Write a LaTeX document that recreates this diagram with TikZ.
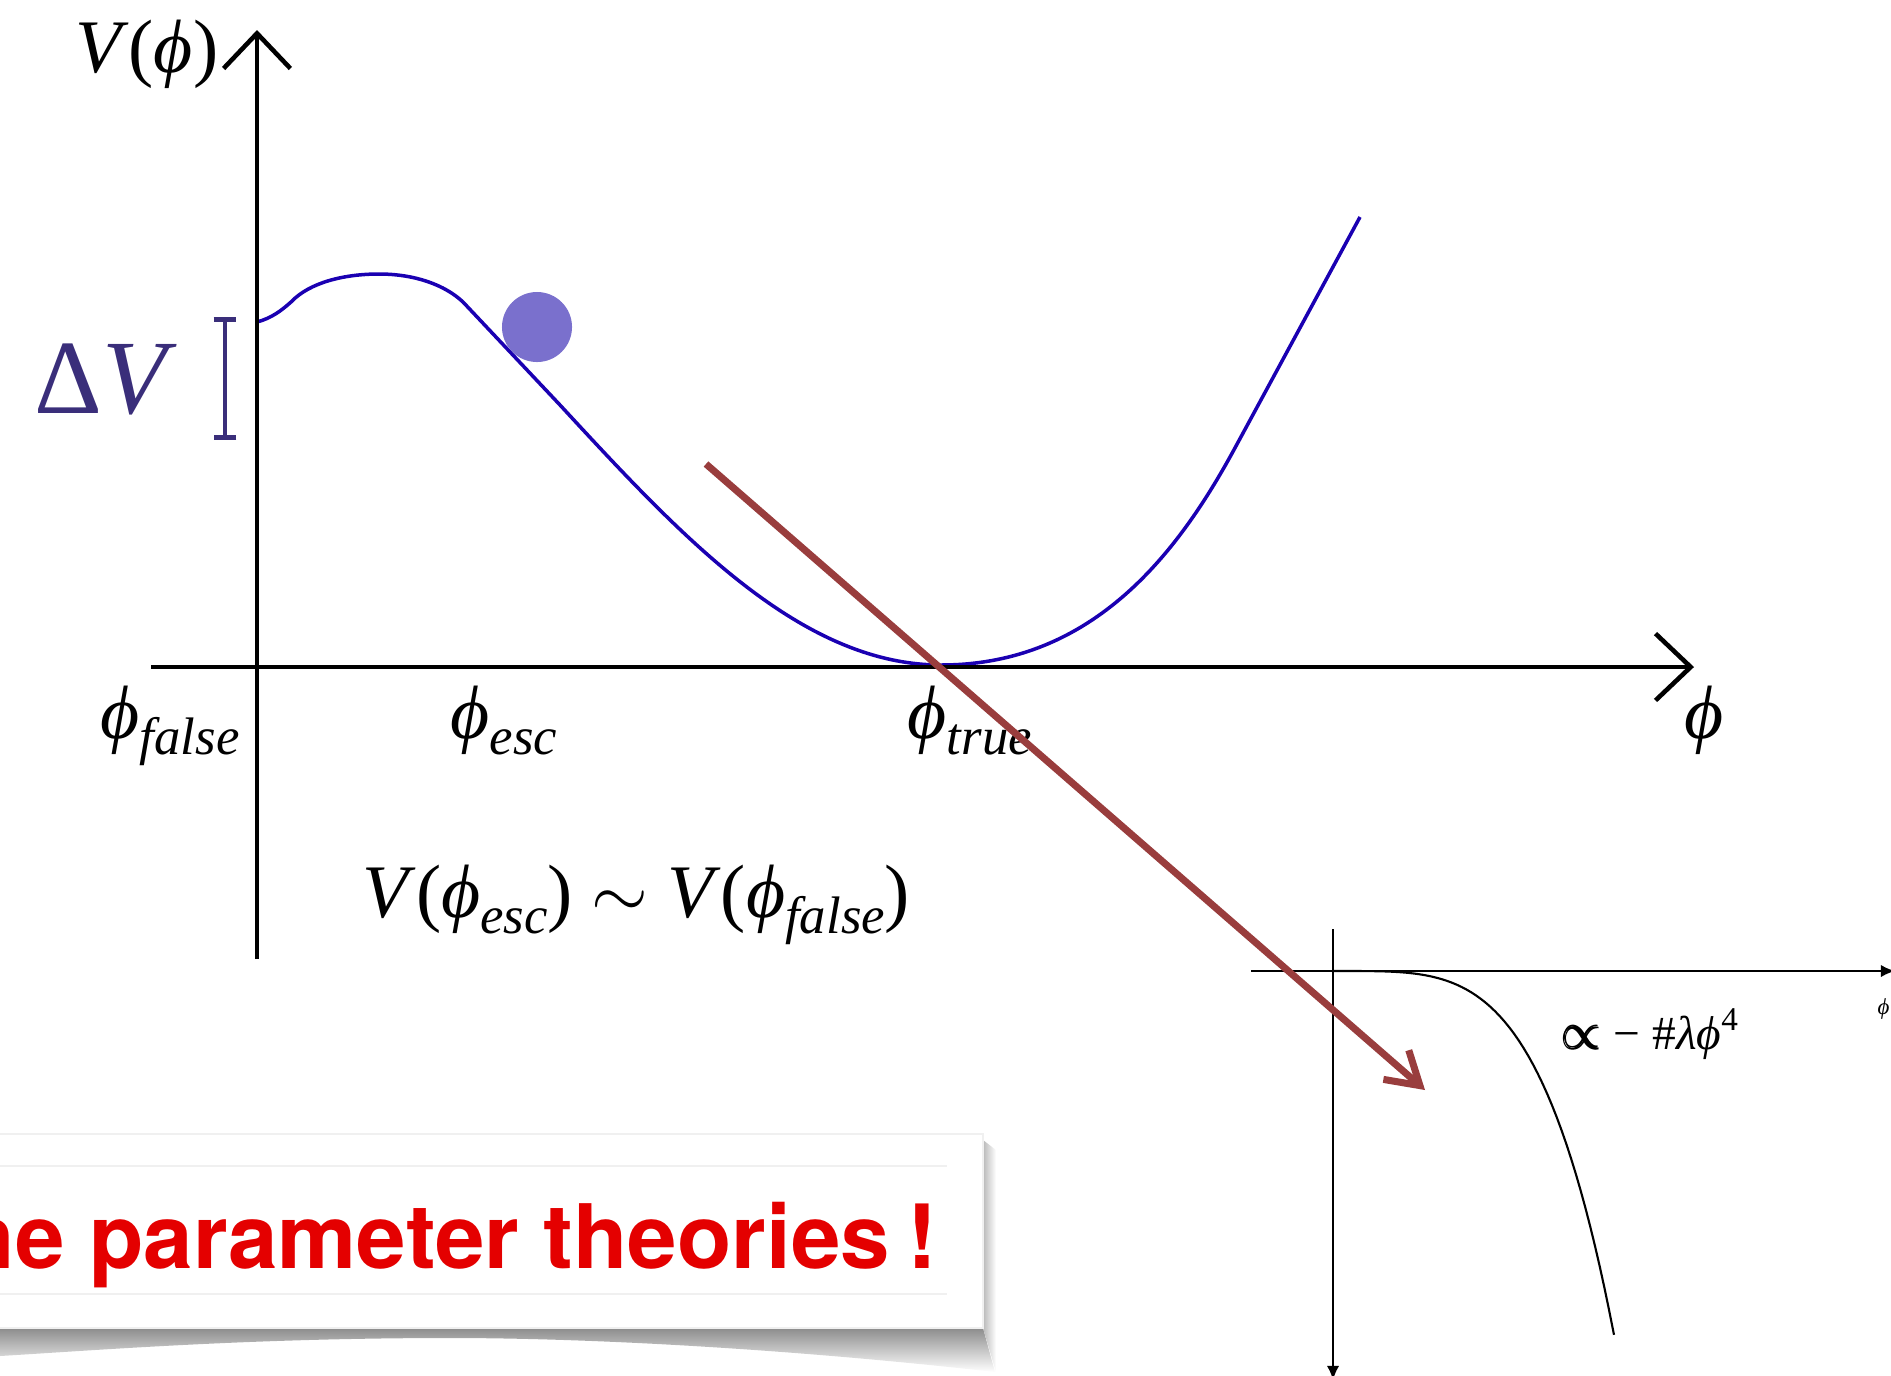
\documentclass[tikz,border=0pt]{standalone}
\usepackage{amsmath,amssymb}
\usepackage{xcolor}
\usepackage{fontspec}
\setmainfont{Liberation Serif}
\newfontfamily\bannerfont{TeX Gyre Heros}
\usepackage{tikz}
\usetikzlibrary{arrows.meta, positioning}

\definecolor{curveblue}{RGB}{26,0,178}
\definecolor{dotblue}{RGB}{122,112,205}
\definecolor{dvcol}{RGB}{58,46,122}
\definecolor{arrowred}{RGB}{153,61,61}
\definecolor{bannerred}{RGB}{228,0,0}

\newcommand{\ph}{\textit{ϕ}}
\newcommand{\lowsub}[1]{\raisebox{-0.22em}{\fontsize{15}{15}\selectfont\itshape #1}}

\begin{document}
\begin{tikzpicture}[x=0.01cm, y=-0.01cm,
  axis/.style={line width=1.3pt, -{Straight Barb[length=10pt, width=19pt]}},
  lbl/.style={font=\fontsize{21.5}{24}\selectfont, inner sep=0pt},
  pot/.style={curveblue, line width=1pt},
  inaxis/.style={line width=0.6pt, -{Latex[length=4pt, width=3.5pt]}},
  redarr/.style={arrowred, line width=2pt, -{Straight Barb[length=9pt, width=11pt]}},
  dvbar/.style={dvcol, line width=1.4pt, {Bar[width=6.5pt]}-{Bar[width=6.5pt]}}
]
\useasboundingbox (0,0) rectangle (1891,1375);
\clip (0,0) rectangle (1891,1375);

% main axes
\coordinate (o) at (257,667);
\coordinate (ytop) at (257,30);
\coordinate (ybot) at (257,959);
\coordinate (xl) at (151,667);
\coordinate (xr) at (1694,667);

% potential
\draw[pot] (257,322) .. controls (272,318) and (282,310) .. (291,302)
  .. controls (310,282) and (345,274) .. (379,274)
  .. controls (415,274) and (445,285) .. (463,302)
  -- (560,405) .. controls (680,535) and (800,665) .. (941,665)
  .. controls (1095,665) and (1180,550) .. (1236,446) -- (1360,217);
\draw[axis] (ybot) -- (ytop);
\draw[axis] (xl) -- (xr);
\node[circle, fill=dotblue, inner sep=0pt, minimum size=0.7cm] (ball) at (537,327) {};

% barrier height
\coordinate (dvt) at (225,317);
\coordinate (dvb) at (225,440);
\draw[dvbar] (dvt) -- (dvb);
\node[lbl, text=dvcol, font=\fontsize{30}{32}\selectfont, anchor=base east] (dv) at (178,413) {Δ\textit{V}};

% labels
\node[lbl, anchor=base east] (vlab) at (219,72) {\textit{V}(\ph)};
\node[lbl, anchor=base west] (pfalse) at (100,738) {\ph\lowsub{false}};
\node[lbl, anchor=base west] (pesc) at (450,738) {\ph\lowsub{esc}};
\node[lbl, anchor=base west] (ptrue) at (907,738) {\ph\lowsub{true}};
\node[lbl, anchor=base west] (pax) at (1684,738) {\ph};
\node[lbl, anchor=base west] (eqn) at (362,917) {\textit{V}(\ph\lowsub{esc}) $\sim$ \textit{V}(\ph\lowsub{false})};

% inset
\coordinate (it) at (1333,929);
\coordinate (ib) at (1333,1380);
\coordinate (il) at (1251,971);
\coordinate (ir) at (1895,971);
\draw[inaxis] (it) -- (ib);
\draw[inaxis] (il) -- (ir);
\draw[line width=0.6pt] plot[domain=0:2.81, samples=60] ({1333+100*\x}, {971+364*(\x/2.81)^4});
\node[inner sep=0pt, font=\fontsize{13.5}{16}\selectfont, anchor=base west] (prop) at (1562,1049) {$\pmb{\propto}$ − \#\textit{λ}\ph\textsuperscript{4}};
\node[inner sep=0pt, font=\fontsize{6.5}{7}\selectfont, anchor=base west] (iphi) at (1877,1014) {\ph};

% banner
\shade[top color=gray!90, bottom color=white] (0,1328) -- (983,1328) -- (995,1372)
  .. controls (800,1350) and (600,1338) .. (450,1338)
  .. controls (250,1338) and (100,1350) .. (0,1356) -- cycle;
\shade[left color=gray!55, right color=white] (983,1140) -- (996,1150) -- (996,1372) -- (983,1328) -- cycle;
\filldraw[fill=white, draw=gray!12] (-5,1134) rectangle (983,1328);
\draw[gray!12, line width=0.8pt] (0,1166) -- (947,1166);
\draw[gray!12, line width=0.8pt] (0,1294) -- (947,1294);
\node[inner sep=0pt, anchor=base east, text=bannerred, font=\bannerfont\bfseries\fontsize{25.3}{28}\selectfont] (slogan) at (938,1268) {ne parameter theories\hspace{-0.08em} !};

% zoom arrow
\coordinate (rs) at (706,464);
\coordinate (re) at (1425,1090);
\draw[redarr] (rs) -- (re);
\end{tikzpicture}
\end{document}
